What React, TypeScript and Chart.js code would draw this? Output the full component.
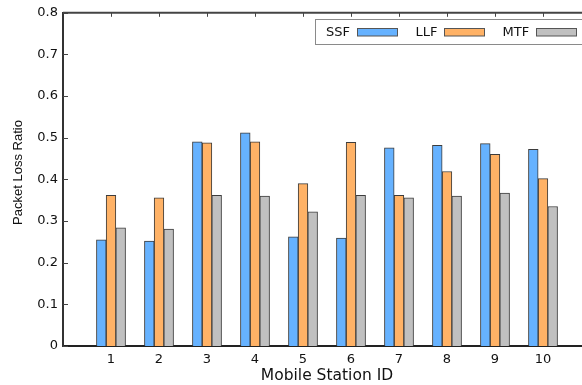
import React, { useEffect, useRef } from "react";
import { Chart, registerables } from "chart.js";

Chart.register(...registerables);

const categories = ["1", "2", "3", "4", "5", "6", "7", "8", "9", "10"];
const seriesNames = ["SSF", "LLF", "MTF"];
const ssfValues = [0.255, 0.252, 0.49, 0.512, 0.262, 0.259, 0.476, 0.482, 0.486, 0.472];
const llfValues = [0.362, 0.356, 0.488, 0.49, 0.39, 0.489, 0.362, 0.419, 0.46, 0.402];
const mtfValues = [0.284, 0.281, 0.362, 0.36, 0.322, 0.362, 0.356, 0.36, 0.367, 0.335];
const yTicks = [0, 0.1, 0.2, 0.3, 0.4, 0.5, 0.6, 0.7, 0.8];
const xTitle = "Mobile Station ID";
const yTitle = "Packet Loss Ratio";

const fills = ["#66B2FF", "#FFB266", "#C0C0C0"];
const FONT = "'DejaVu Sans', Verdana, sans-serif";

const framePlugin = {
  id: "frame",
  afterDraw(chart: any) {
    const { ctx, chartArea, scales } = chart;
    const xs = scales.x;
    const ys = scales.y;
    ctx.save();
    // top border
    ctx.strokeStyle = "#444";
    ctx.lineWidth = 2;
    ctx.beginPath();
    ctx.moveTo(chartArea.left, chartArea.top);
    ctx.lineTo(chartArea.right, chartArea.top);
    ctx.stroke();
    // top inward ticks at categories
    ctx.lineWidth = 1;
    categories.forEach((_, i) => {
      const x = Math.round(xs.getPixelForValue(i + 1)) + 0.5;
      ctx.beginPath();
      ctx.moveTo(x, chartArea.top);
      ctx.lineTo(x, chartArea.top + 4);
      ctx.stroke();
    });
    // left inward ticks
    yTicks.forEach((v) => {
      const y = Math.round(ys.getPixelForValue(v)) + 0.5;
      ctx.beginPath();
      ctx.moveTo(chartArea.left, y);
      ctx.lineTo(chartArea.left + 5, y);
      ctx.stroke();
    });
    // y axis title
    ctx.save();
    ctx.translate(18, 172.5);
    ctx.rotate(-Math.PI / 2);
    ctx.font = "13px 'Liberation Sans', Arial, sans-serif";
    ctx.fillStyle = "#111";
    ctx.textAlign = "center";
    ctx.textBaseline = "middle";
    ctx.fillText(yTitle, 0, 0);
    ctx.restore();
    // legend
    const bx = 315.5, by = 19.5, bw = 290, bh = 25;
    ctx.fillStyle = "#fff";
    ctx.fillRect(bx, by, bw, bh);
    ctx.strokeStyle = "#8a8a8a";
    ctx.lineWidth = 1;
    ctx.strokeRect(bx, by, bw, bh);
    ctx.font = `13px ${FONT}`;
    ctx.textBaseline = "middle";
    ctx.textAlign = "left";
    let x = 326;
    const cy = by + bh / 2;
    seriesNames.forEach((name, i) => {
      ctx.fillStyle = "#111";
      ctx.fillText(name, x, cy + 0.5);
      const w = ctx.measureText(name).width;
      const sx = Math.round(x + w + 7) + 0.5;
      ctx.fillStyle = fills[i];
      ctx.fillRect(sx, cy - 3.5, 40, 7.5);
      ctx.strokeStyle = "#555";
      ctx.strokeRect(sx, cy - 3.5, 40, 7.5);
      x = sx + 40 + 18;
    });
    ctx.restore();
  },
};

export default function App() {
  const ref = useRef<HTMLCanvasElement | null>(null);
  useEffect(() => {
    if (!ref.current) return;
    const labels = ["", ...categories, ""];
    const pad = (a: number[]) => [null, ...a, null];
    const series = [ssfValues, llfValues, mtfValues];
    const chart = new Chart(ref.current, {
      type: "bar",
      data: {
        labels,
        datasets: series.map((vals, i) => ({
          label: seriesNames[i],
          data: pad(vals) as any,
          backgroundColor: fills[i],
          borderColor: "#3c3c3c",
          borderWidth: 1,
          barThickness: 9.7,
        })),
      },
      plugins: [framePlugin],
      options: {
        animation: false,
        responsive: false,
        devicePixelRatio: 1,
        layout: { padding: { top: 10, right: 9, left: 0, bottom: 0 } },
        plugins: { legend: { display: false }, tooltip: { enabled: false } },
        scales: {
          x: {
            type: "category",
            offset: false,
            grid: { display: false, drawTicks: false },
            border: { display: true, color: "#222", width: 2 },
            ticks: {
              autoSkip: false,
              maxRotation: 0,
              padding: 6,
              color: "#111",
              font: { family: FONT, size: 13 },
            },
            title: {
              display: true,
              text: xTitle,
              color: "#111",
              font: { family: FONT, size: 15.5 },
              padding: { top: 0, bottom: 0 },
            },
            afterFit: (s: any) => {
              s.height = 39;
            },
          },
          y: {
            min: 0,
            max: 0.8,
            grid: { display: false, drawTicks: false },
            border: { display: true, color: "#333", width: 2 },
            ticks: {
              stepSize: 0.1,
              padding: 5,
              color: "#111",
              font: { family: FONT, size: 13 },
              callback: (v: any) => {
                const n = Number(v);
                return n === 0 ? "0" : n.toFixed(1);
              },
            },
            title: { display: false },
            afterFit: (s: any) => {
              s.width = 63;
            },
          },
        },
      },
    });
    return () => chart.destroy();
  }, []);
  return (
    <div
      style={{
        position: "fixed",
        left: 0,
        top: 0,
        width: 582,
        height: 385,
        overflow: "hidden",
        background: "#fff",
      }}
    >
      <canvas ref={ref} width={600} height={385} style={{ width: 600, height: 385, display: "block" }} />
    </div>
  );
}
